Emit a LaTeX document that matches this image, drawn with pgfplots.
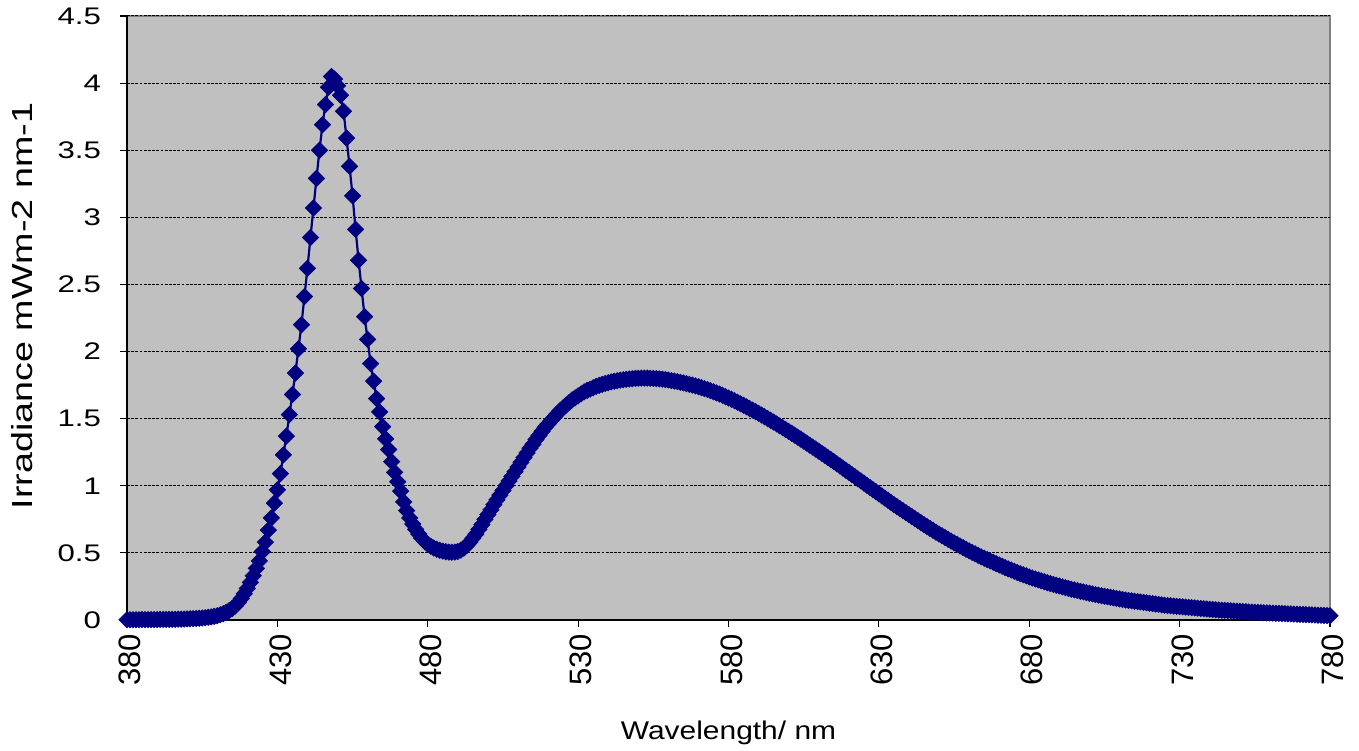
\documentclass[border=0pt]{standalone}
\usepackage{fontspec}
\setmainfont{Liberation Sans}
\newfontfamily\ytfont{Liberation Sans}[FakeStretch=1.3]
\newfontfamily\ylfont{Liberation Sans}[FakeStretch=1.3]
\newfontfamily\xlfont{Liberation Sans}[FakeStretch=1.17]
\usepackage{pgfplots}
\pgfplotsset{compat=1.18}
\definecolor{plotbg}{HTML}{C0C0C0}
\definecolor{series}{HTML}{000080}
\definecolor{frame}{HTML}{808080}
\begin{document}
\begin{tikzpicture}
\begin{axis}[
  scale only axis,
  width=601.5pt, height=302pt,
  xmin=380, xmax=780, ymin=0, ymax=4.5,
  clip=false,
  axis background/.style={fill=plotbg, draw=frame, line width=0.6pt},
  axis x line*=bottom, axis y line*=left,
  x axis line style={-, black, line width=0.9pt},
  y axis line style={-, black, line width=0.9pt},
  xtick={380,430,...,780},
  ytick={0,0.5,...,4.5},
  tick align=outside,
  major tick length=3.5pt,
  tick style={black, line width=0.6pt},
  ymajorgrids,
  major grid style={black, line width=0.5pt, dash pattern=on 1.4pt off 0.7pt},
  /pgf/number format/assume math mode=true,
  yticklabel style={font=\fontsize{12}{14}\ytfont, anchor=east, xshift=-6pt},
  xticklabel style={font=\fontsize{15.5}{17}\selectfont, rotate=90, anchor=east, yshift=-1.5pt},
  xlabel={Wavelength/ nm},
  ylabel={Irradiance mWm-2 nm-1},
  every axis x label/.style={at={(rel axis cs:0.5,0)}, anchor=base, yshift=-60pt, font=\fontsize{12.8}{15}\xlfont},
  every axis y label/.style={at={(rel axis cs:0,0.52)}, rotate=90, anchor=center, yshift=52.5pt, font=\fontsize{14.5}{16}\ylfont},
]
\addplot[series, line width=1.1pt, mark=square*, mark size=2.9pt, mark options={rotate=45, fill=series, draw=series, line width=0.3pt}] coordinates {
(380,0.002) (381,0.002) (382,0.002) (383,0.002) (384,0.002) (385,0.003) (386,0.003) (387,0.003) (388,0.003) (389,0.003)
(390,0.003) (391,0.004) (392,0.004) (393,0.004) (394,0.005) (395,0.005) (396,0.005) (397,0.006) (398,0.006) (399,0.007)
(400,0.008) (401,0.009) (402,0.010) (403,0.011) (404,0.013) (405,0.015) (406,0.017) (407,0.020) (408,0.023) (409,0.027)
(410,0.032) (411,0.039) (412,0.047) (413,0.057) (414,0.070) (415,0.085) (416,0.105) (417,0.130) (418,0.160) (419,0.195)
(420,0.235) (421,0.280) (422,0.330) (423,0.385) (424,0.440) (425,0.510) (426,0.580) (427,0.670) (428,0.760) (429,0.870)
(430,0.970) (431,1.09) (432,1.23) (433,1.37) (434,1.53) (435,1.68) (436,1.84) (437,2.02) (438,2.20) (439,2.41)
(440,2.62) (441,2.85) (442,3.07) (443,3.29) (444,3.50) (445,3.69) (446,3.84) (447,3.97) (448,4.05) (449,4.03)
(450,3.98) (451,3.91) (452,3.79) (453,3.59) (454,3.38) (455,3.16) (456,2.91) (457,2.68) (458,2.47) (459,2.26)
(460,2.09) (461,1.91) (462,1.78) (463,1.65) (464,1.55) (465,1.44) (466,1.35) (467,1.27) (468,1.18) (469,1.10)
(470,1.03) (471,0.96) (472,0.88) (473,0.815) (474,0.76) (475,0.715) (476,0.675) (477,0.64) (478,0.61) (479,0.585)
(480,0.565) (481,0.55) (482,0.537) (483,0.527) (484,0.519) (485,0.513) (486,0.509) (487,0.506) (488,0.505) (489,0.506)
(490,0.51) (491,0.52) (492,0.535) (493,0.555) (494,0.58) (495,0.61) (496,0.64) (497,0.675) (498,0.71) (499,0.75)
(500,0.785) (501,0.82) (502,0.86) (503,0.895) (504,0.93) (505,0.965) (506,1.0) (507,1.035) (508,1.07) (509,1.105)
(510,1.14) (511,1.175) (512,1.21) (513,1.245) (514,1.28) (515,1.31) (516,1.345) (517,1.375) (518,1.405) (519,1.435)
(520,1.46) (521,1.485) (522,1.51) (523,1.535) (524,1.56) (525,1.58) (526,1.60) (527,1.62) (528,1.64) (529,1.655)
(530,1.67) (531,1.685) (532,1.70) (533,1.71) (534,1.72) (535,1.73) (536,1.74) (537,1.748) (538,1.755) (539,1.762)
(540,1.768) (541,1.774) (542,1.779) (543,1.783) (544,1.787) (545,1.79) (546,1.793) (547,1.796) (548,1.798) (549,1.80)
(550,1.801) (551,1.802) (552,1.802) (553,1.802) (554,1.801) (555,1.80) (556,1.798) (557,1.796) (558,1.794) (559,1.791)
(560,1.788) (561,1.784) (562,1.78) (563,1.776) (564,1.771) (565,1.766) (566,1.761) (567,1.756) (568,1.75) (569,1.744)
(570,1.738) (571,1.731) (572,1.724) (573,1.717) (574,1.709) (575,1.70) (576,1.692) (577,1.683) (578,1.674) (579,1.664)
(580,1.654) (581,1.644) (582,1.633) (583,1.622) (584,1.611) (585,1.60) (586,1.588) (587,1.576) (588,1.564) (589,1.552)
(590,1.54) (591,1.527) (592,1.514) (593,1.501) (594,1.488) (595,1.475) (596,1.461) (597,1.447) (598,1.433) (599,1.419)
(600,1.405) (601,1.391) (602,1.377) (603,1.362) (604,1.348) (605,1.333) (606,1.318) (607,1.303) (608,1.288) (609,1.273)
(610,1.258) (611,1.242) (612,1.227) (613,1.211) (614,1.196) (615,1.18) (616,1.164) (617,1.148) (618,1.132) (619,1.116)
(620,1.10) (621,1.084) (622,1.068) (623,1.052) (624,1.036) (625,1.02) (626,1.004) (627,0.988) (628,0.972) (629,0.956)
(630,0.94) (631,0.924) (632,0.908) (633,0.892) (634,0.876) (635,0.86) (636,0.845) (637,0.83) (638,0.815) (639,0.80)
(640,0.785) (641,0.77) (642,0.755) (643,0.74) (644,0.725) (645,0.71) (646,0.696) (647,0.682) (648,0.668) (649,0.654)
(650,0.64) (651,0.627) (652,0.614) (653,0.601) (654,0.588) (655,0.575) (656,0.563) (657,0.551) (658,0.539) (659,0.527)
(660,0.515) (661,0.504) (662,0.493) (663,0.482) (664,0.471) (665,0.46) (666,0.45) (667,0.44) (668,0.43) (669,0.42)
(670,0.41) (671,0.40) (672,0.39) (673,0.381) (674,0.372) (675,0.363) (676,0.354) (677,0.345) (678,0.337) (679,0.329)
(680,0.321) (681,0.313) (682,0.306) (683,0.299) (684,0.292) (685,0.285) (686,0.278) (687,0.271) (688,0.265) (689,0.259)
(690,0.253) (691,0.247) (692,0.241) (693,0.235) (694,0.229) (695,0.224) (696,0.219) (697,0.214) (698,0.209) (699,0.204)
(700,0.199) (701,0.194) (702,0.189) (703,0.185) (704,0.181) (705,0.177) (706,0.173) (707,0.169) (708,0.165) (709,0.161)
(710,0.157) (711,0.153) (712,0.149) (713,0.146) (714,0.143) (715,0.14) (716,0.137) (717,0.134) (718,0.131) (719,0.128)
(720,0.125) (721,0.122) (722,0.119) (723,0.116) (724,0.113) (725,0.11) (726,0.108) (727,0.106) (728,0.104) (729,0.102)
(730,0.10) (731,0.098) (732,0.096) (733,0.094) (734,0.092) (735,0.09) (736,0.088) (737,0.086) (738,0.084) (739,0.082)
(740,0.08) (741,0.078) (742,0.076) (743,0.075) (744,0.073) (745,0.072) (746,0.07) (747,0.069) (748,0.067) (749,0.066)
(750,0.064) (751,0.063) (752,0.062) (753,0.06) (754,0.059) (755,0.058) (756,0.057) (757,0.055) (758,0.054) (759,0.053)
(760,0.052) (761,0.051) (762,0.05) (763,0.049) (764,0.048) (765,0.047) (766,0.046) (767,0.045) (768,0.044) (769,0.043)
(770,0.042) (771,0.041) (772,0.04) (773,0.039) (774,0.038) (775,0.037) (776,0.036) (777,0.035) (778,0.034) (779,0.033)
(780,0.032)
};
\end{axis}
\path (current axis.south west) ++(-63.5pt,-65.5pt) coordinate (bl);
\path (current axis.north east) ++(14.5pt,8pt) coordinate (tr);
\pgfresetboundingbox
\useasboundingbox (bl) rectangle (tr);
\end{tikzpicture}
\end{document}
